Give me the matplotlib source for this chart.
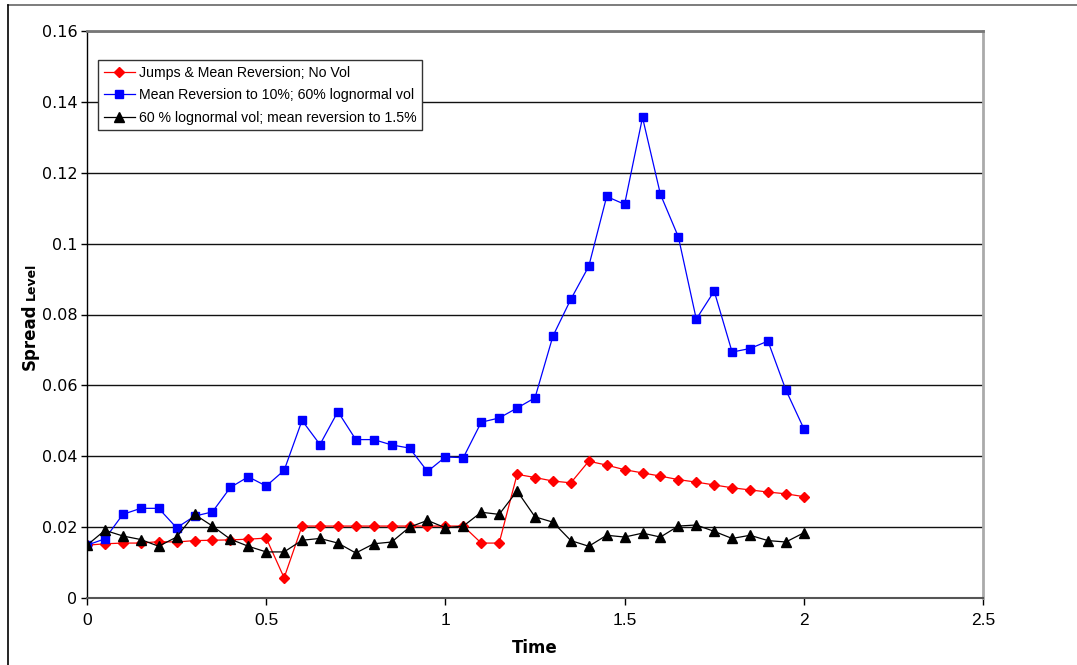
import numpy as np
from matplotlib import pyplot as plt
from matplotlib.lines import Line2D
from matplotlib.ticker import FuncFormatter

t = np.round(np.arange(0, 2.0001, 0.05), 2)

jumps = [0.0149, 0.0153, 0.0155, 0.0155, 0.0159, 0.0158, 0.0162, 0.0163, 0.0164, 0.0166,
         0.0169, 0.0057, 0.0203, 0.0203, 0.0203, 0.0203, 0.0203, 0.0203, 0.0203, 0.0203,
         0.0203, 0.0203, 0.0155, 0.0155, 0.0349, 0.0340, 0.0330, 0.0325, 0.0386, 0.0375,
         0.0362, 0.0353, 0.0344, 0.0334, 0.0327, 0.0319, 0.0311, 0.0305, 0.0299, 0.0294,
         0.0286]
mr10 = [0.0149, 0.0167, 0.0236, 0.0253, 0.0253, 0.0198, 0.0231, 0.0243, 0.0312, 0.0342,
        0.0316, 0.0360, 0.0501, 0.0433, 0.0526, 0.0447, 0.0447, 0.0432, 0.0423, 0.0357,
        0.0398, 0.0396, 0.0496, 0.0508, 0.0536, 0.0565, 0.0739, 0.0843, 0.0936, 0.1133,
        0.1111, 0.1356, 0.1139, 0.1019, 0.0787, 0.0866, 0.0694, 0.0704, 0.0725, 0.0587,
        0.0478]
mr15 = [0.0149, 0.0191, 0.0175, 0.0165, 0.0146, 0.0172, 0.0236, 0.0203, 0.0166, 0.0146,
        0.0130, 0.0130, 0.0163, 0.0168, 0.0155, 0.0127, 0.0153, 0.0158, 0.0200, 0.0219,
        0.0198, 0.0203, 0.0242, 0.0236, 0.0302, 0.0229, 0.0214, 0.0162, 0.0146, 0.0177,
        0.0172, 0.0183, 0.0172, 0.0203, 0.0206, 0.0188, 0.0168, 0.0177, 0.0162, 0.0158,
        0.0184]

fig = plt.figure(figsize=(10.77, 6.65), dpi=100)
ax = fig.add_axes([87/1077, 67/665, 896/1077, 567/665])

ax.plot(t, jumps, '-', color='#ff0000', lw=0.9, marker='D', ms=4.7,
        mec='#ff0000', mfc='#ff0000', label='Jumps & Mean Reversion; No Vol')
ax.plot(t, mr10, '-', color='#0000ff', lw=0.9, marker='s', ms=5.8,
        mec='#0000ff', mfc='#0000ff', label='Mean Reversion to 10%; 60% lognormal vol')
ax.plot(t, mr15, '-', color='black', lw=0.9, marker='^', ms=6.5,
        mec='black', mfc='black', label='60 % lognormal vol; mean reversion to 1.5%')

ax.set_xlim(0, 2.5)
ax.set_ylim(0, 0.16)
ax.set_xticks(np.arange(0, 2.51, 0.5))
ax.set_yticks(np.arange(0, 0.161, 0.02))
ax.xaxis.set_major_formatter(FuncFormatter(lambda v, p: '%g' % round(v, 3)))
ax.yaxis.set_major_formatter(FuncFormatter(lambda v, p: '%g' % round(v, 3)))
ax.yaxis.grid(True, color='#111111', lw=1.0)
ax.set_axisbelow(True)
ax.tick_params(axis='y', direction='out', length=4, width=1, pad=3, labelsize=11.5)
ax.tick_params(axis='x', direction='out', length=5, width=1, pad=6, labelsize=12.5)
for lab in ax.get_xticklabels():
    lab.set_family('Liberation Sans')

ax.spines['left'].set_color('black')
ax.spines['left'].set_lw(1)
ax.spines['bottom'].set_color('#555555')
ax.spines['bottom'].set_lw(1.5)
ax.spines['top'].set_color('#777777')
ax.spines['top'].set_lw(2)
ax.spines['right'].set_color('#aaaaaa')
ax.spines['right'].set_lw(2)

ax.set_xlabel('Time', fontsize=12, fontweight='bold', labelpad=8)

# y label: bold "Spread" followed by smaller "Level"
sp = fig.text(30/1077, 1 - 370/665, 'Spread', rotation=90, fontsize=12,
              fontweight='bold', ha='center', va='bottom')
fig.canvas.draw()
bb = sp.get_window_extent()
fig.text(31/1077, (bb.y1 + 4) / 665, 'Level', rotation=90, fontsize=9,
         fontweight='bold', ha='center', va='bottom')

leg = ax.legend(loc='upper left', bbox_to_anchor=(11/896, 1 - 29/567),
                prop={'family': 'Liberation Sans', 'size': 10.2},
                fancybox=False, framealpha=1, edgecolor='#333333',
                handlelength=2.2, handletextpad=0.3, borderpad=0.4,
                labelspacing=0.6, borderaxespad=0)
leg.get_frame().set_linewidth(1)

fig.add_artist(Line2D([8/1077, 1], [1 - 5/665, 1 - 5/665], color='#666666', lw=1.2))
fig.add_artist(Line2D([8/1077, 8/1077], [0, 1 - 5/665], color='black', lw=1.2))

plt.savefig('out.png', dpi=100)
